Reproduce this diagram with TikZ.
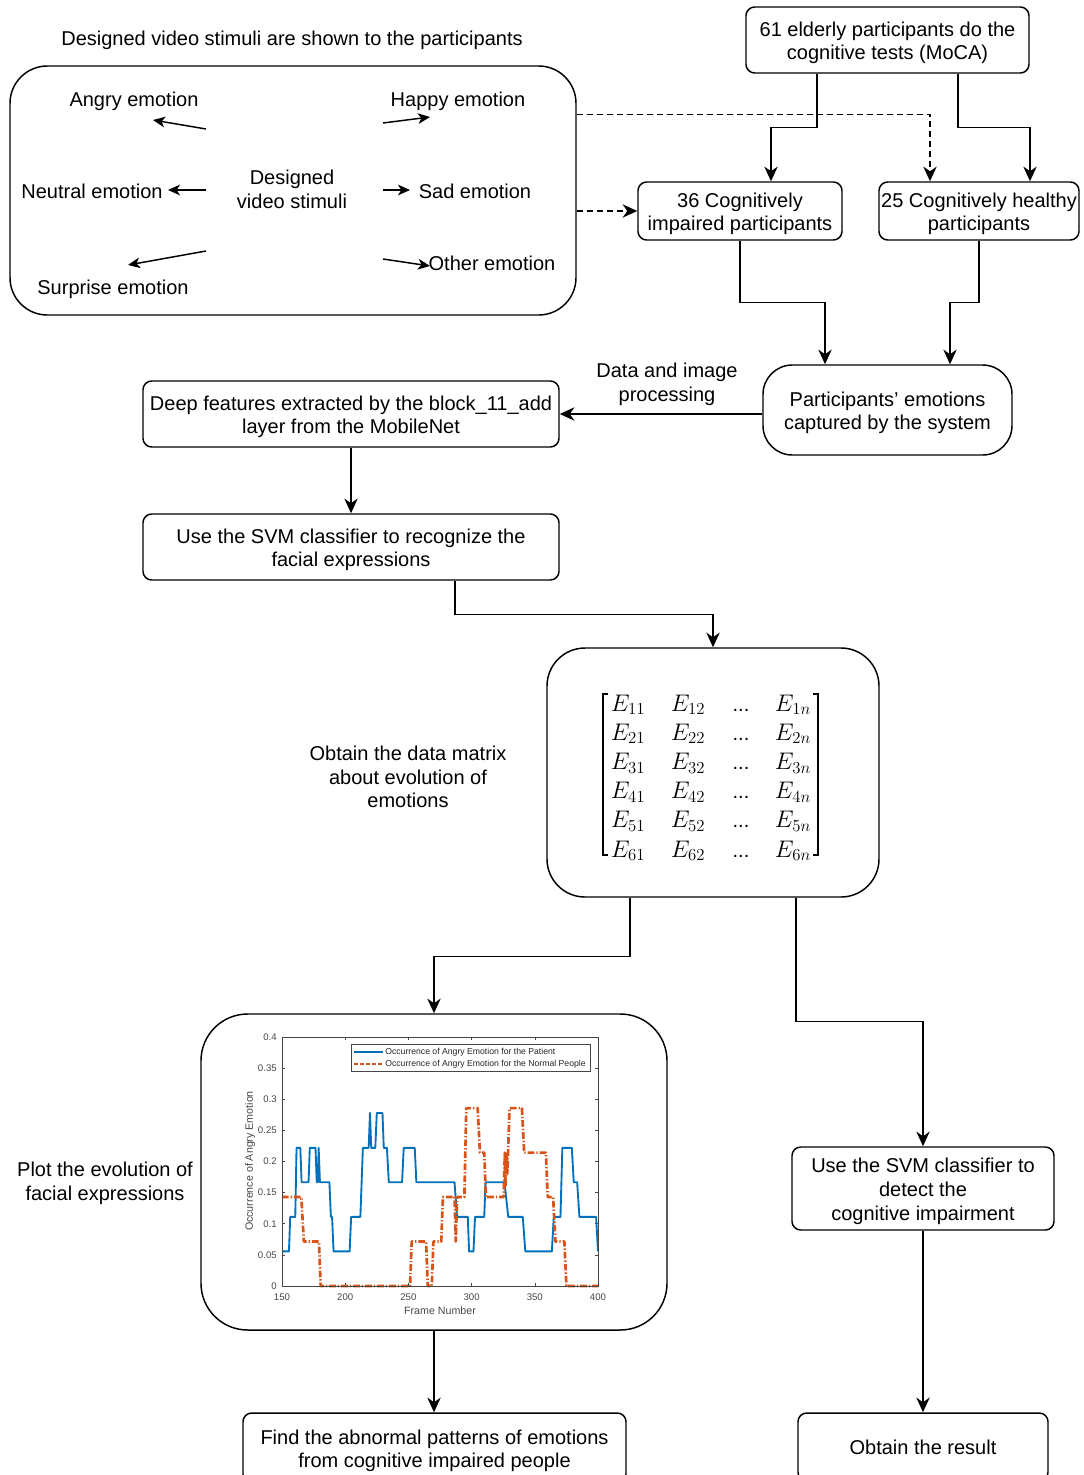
\RequirePackage{fix-cm}
\documentclass[tikz,border=0pt]{standalone}
\usepackage[no-math]{fontspec}
\setmainfont{Liberation Sans}
\usetikzlibrary{arrows.meta,calc}
\definecolor{mblue}{RGB}{0,114,189}
\definecolor{morange}{RGB}{217,83,25}
\definecolor{axgray}{RGB}{70,70,70}
\tikzset{
  txt/.style={font=\fontsize{15}{17.8}\selectfont, align=center, inner sep=0pt},
  box/.style={draw, line width=1.1pt, rounded corners=6.5pt, inner sep=0pt},
  btext/.style={label={[txt, yshift=-2.2pt]center:#1}},
  conn/.style={line width=1.1pt, -{Stealth[length=11pt,width=10pt,inset=3.5pt]}},
  dconn/.style={conn, dash pattern=on 4.5pt off 3pt},
  earr/.style={line width=1.1pt, -{Stealth[length=9pt,width=8pt,inset=2.5pt]}},
  matent/.style={font=\fontsize{18}{20}\selectfont, inner sep=0pt, anchor=base},
  ticklab/.style={font=\fontsize{7.2}{8}\selectfont, text=axgray, inner sep=0pt},
  axlab/.style={font=\fontsize{8}{9}\selectfont, text=axgray, inner sep=0pt},
  leglab/.style={font=\fontsize{6.5}{7}\selectfont, text=black!85, inner sep=0pt, anchor=west},
}
\begin{document}
\begin{tikzpicture}[x=0.75pt,y=-0.75pt]
\path[use as bounding box] (0,0) rectangle (1083,1475);
\clip (0,0) rectangle (1083,1475);

% ---------- stimuli box ----------
\node[txt] (title) at (292,40) {Designed video stimuli are shown to the participants};
\node[box, rounded corners=28pt, minimum width=424.5pt, minimum height=186.75pt] (stim) at (293,190.5) {};
\node[txt] (dvs) at (292,189) {Designed\\video stimuli};
\node[txt] (angry) at (134,101) {Angry emotion};
\node[txt] (happy) at (458,101) {Happy emotion};
\node[txt] (neutral) at (92,191.5) {Neutral emotion};
\node[txt] (sad) at (475,191.5) {Sad emotion};
\node[txt] (other) at (492,263.5) {Other emotion};
\node[txt] (surprise) at (113,289) {Surprise emotion};
\coordinate (a1s) at (206,129); \coordinate (a1e) at (153,120);
\coordinate (a2s) at (383,123); \coordinate (a2e) at (430,117);
\coordinate (a3s) at (206,190); \coordinate (a3e) at (168,190);
\coordinate (a4s) at (383,190); \coordinate (a4e) at (410,190);
\coordinate (a5s) at (206,251); \coordinate (a5e) at (128,265);
\coordinate (a6s) at (383,259); \coordinate (a6e) at (430,266);
\draw[earr] (a1s) -- (a1e);
\draw[earr] (a2s) -- (a2e);
\draw[earr] (a3s) -- (a3e);
\draw[earr] (a4s) -- (a4e);
\draw[earr] (a5s) -- (a5e);
\draw[earr] (a6s) -- (a6e);

% ---------- right top ----------
\node[box, minimum width=212.25pt, minimum height=49.5pt, btext={61 elderly participants do the\\cognitive tests (MoCA)}] (top) at (887.5,40) {};
\node[box, minimum width=153pt, minimum height=43.5pt, btext={36 Cognitively\\impaired participants}] (imp) at (740,211) {};
\node[box, minimum width=150pt, minimum height=43.5pt, btext={25 Cognitively healthy\\participants}] (hea) at (979,211) {};
\node[box, rounded corners=22pt, minimum width=186.75pt, minimum height=67.5pt, btext={Participants’ emotions\\captured by the system}] (part) at (887.5,410) {};
\node[txt] (dlab) at (667,384) {Data and image\\processing};
\node[box, minimum width=312pt, minimum height=49.5pt, btext={Deep features extracted by the block\_11\_add\\layer from the MobileNet}] (deep) at (351,414) {};
\node[box, minimum width=312pt, minimum height=49.5pt, btext={Use the SVM classifier to recognize the\\facial expressions}] (svm) at (351,547) {};

% ---------- matrix ----------
\node[box, rounded corners=28.5pt, minimum width=249pt, minimum height=186.75pt] (mat) at (713,772.5) {};
\node[txt] (mlab) at (408,777) {Obtain the data matrix\\about evolution of\\emotions};
\foreach \r in {1,...,6} {
  \pgfmathsetmacro\yy{711+(\r-1)*29.2}
  \node[matent] (m\r a) at (628,\yy) {$E_{\r1}$};
  \node[matent] (m\r b) at (688,\yy) {$E_{\r2}$};
  \node[matent, font=\fontsize{15}{17}\selectfont] (m\r c) at (741,\yy) {...};
  \node[matent] (m\r d) at (793,\yy) {$E_{\r n}$};
}
\draw[line width=1.4pt] (608,694) -- (603,694) -- (603,855) -- (608,855);
\draw[line width=1.4pt] (813,694) -- (818,694) -- (818,855) -- (813,855);

% ---------- plot ----------
\node[box, rounded corners=35pt, minimum width=349.5pt, minimum height=237pt] (plot) at (434,1172) {};
\node[txt] (plab) at (105,1183) {Plot the evolution of\\facial expressions};
\begin{scope}[shift={(92.4,1286)}, x=0.948pt, y=466.875pt]
  \foreach \t in {150,200,...,400} {
    \draw[axgray, line width=0.4pt] (\t,0) -- ++(0,0.005);
    \draw[axgray, line width=0.4pt] (\t,0.4) -- ++(0,-0.005);
    \node[ticklab] at (\t,-0.0177) {\t};
  }
  \foreach \v/\l in {0/0,0.05/0.05,0.1/0.1,0.15/0.15,0.2/0.2,0.25/0.25,0.3/0.3,0.35/0.35,0.4/0.4} {
    \draw[axgray, line width=0.4pt] (150,\v) -- ++(2.4,0);
    \draw[axgray, line width=0.4pt] (400,\v) -- ++(-2.4,0);
    \node[ticklab, anchor=east] at (146,\v) {\l};
  }
  \node[axlab] at (275,-0.040) {Frame Number};
  \node[axlab, rotate=90] at (124.7,0.2008) {Occurrence of Angry Emotion};
  % curves
  \draw[mblue, line width=1.4pt, line join=round]
    (150,.0556)--(155.5,.0556)--(156.5,.111)--(160.5,.111)--(161.5,.222)--(164.5,.222)--(165.5,.1667)--(171,.1667)--(172,.222)--(176.5,.222)--(177.5,.1667)--(178.3,.1667)--(179,.222)--(180,.1667)--(187.5,.1667)--(188.7,.111)--(189.6,.111)--(190.8,.0556)--(203.5,.0556)--(204.7,.111)--(212,.111)--(214,.222)--(218.6,.222)--(219.6,.278)--(220.6,.222)--(223.8,.222)--(225,.278)--(229.5,.278)--(230.5,.222)--(233,.222)--(234.5,.1667)--(245,.1667)--(246.3,.222)--(255,.222)--(256.3,.1667)--(286.5,.1667)--(288.5,.111)--(297,.111)--(298,.0556)--(301.5,.0556)--(302.7,.111)--(310,.111)--(311,.1667)--(326,.1667)--(329,.111)--(340.5,.111)--(342.5,.0556)--(363.5,.0556)--(365,.111)--(370.3,.111)--(371.8,.222)--(379.3,.222)--(380.8,.1667)--(383.5,.1667)--(385.3,.111)--(398.5,.111)--(400,.0556);
  \draw[morange, line width=2pt, line join=round, dash pattern=on 5pt off 1.5pt on 1pt off 1.5pt]
    (150,.1429)--(165.3,.1429)--(167.3,.0714)--(179.2,.0714)--(180.6,0)--(251.3,0)--(252.6,.0714)--(264,.0714)--(265.3,0)--(268.5,0)--(269.8,.0714)--(276,.0714)--(277.3,.1429)--(286.5,.1429)--(287.5,.0714)--(288.5,.1429)--(294.3,.1429)--(295.8,.2857)--(304.8,.2857)--(306.6,.2143)--(310,.2143)--(311.3,.1429)--(325.3,.1429)--(326.3,.2143)--(326.8,.16)--(327.5,.2143)--(328.3,.18)--(330,.2857)--(339.8,.2857)--(341.6,.2143)--(358.8,.2143)--(360.2,.1429)--(364.5,.1429)--(366.3,.0714)--(373.4,.0714)--(375,0)--(400,0);
  \draw[axgray, line width=0.4pt] (150,0) rectangle (400,0.4);
  % legend
  \draw[fill=white, draw=axgray, line width=0.4pt] (205.1,0.3883) rectangle (394.2,0.3454);
  \draw[mblue, line width=1.4pt] (207,0.3754) -- (230,0.3754);
  \draw[morange, line width=2pt, dash pattern=on 3pt off 1.5pt] (207,0.3566) -- (230,0.3566);
  \node[leglab] at (231.5,0.3754) {Occurrence of Angry Emotion for the Patient};
  \node[leglab] at (231.5,0.3566) {Occurrence of Angry Emotion for the Normal People};
\end{scope}

% ---------- bottom ----------
\node[box, minimum width=196.5pt, minimum height=62.25pt, btext={Use the SVM classifier to\\detect the\\cognitive impairment}] (det) at (923,1188.5) {};
\node[box, minimum width=287.25pt, minimum height=52.5pt, btext={Find the abnormal patterns of emotions\\from cognitive impaired people}] (find) at (434.5,1448) {};
\node[box, minimum width=187.5pt, minimum height=51pt] (res) at (923,1447) {};
\node[txt] (restxt) at (923,1447.5) {Obtain the result};

% ---------- connectors ----------
\draw[conn] ($(top.south)+(-70.5,0)$) -- ++(0,54) -| ($(imp.north)+(31,0)$);
\draw[conn] ($(top.south)+(70.5,0)$) -- ++(0,54) -| ($(hea.north)+(51,0)$);
\draw[dconn] ($(stim.north east)+(0,49)$) -| ($(hea.north)+(-49,0)$);
\draw[dconn] ($(stim.east)+(0,20.5)$) -- (imp.west);
\draw[conn] (imp.south) -- ++(0,62) -| ($(part.north)+(-62.5,0)$);
\draw[conn] (hea.south) -- ++(0,62) -| ($(part.north)+(62.5,0)$);
\draw[conn] (part.west |- deep.east) -- (deep.east);
\draw[conn] (deep.south) -- (svm.north);
\draw[conn] ($(svm.south)+(104,0)$) -- ++(0,34) -| (mat.north);
\draw[conn] ($(mat.south)+(-83,0)$) -- ++(0,59) -| (plot.north);
\draw[conn] ($(mat.south)+(83,0)$) -- ++(0,124) -| (det.north);
\draw[conn] (plot.south) -- (plot.south |- find.north);
\draw[conn] (det.south) -- (res.north);
\end{tikzpicture}
\end{document}
